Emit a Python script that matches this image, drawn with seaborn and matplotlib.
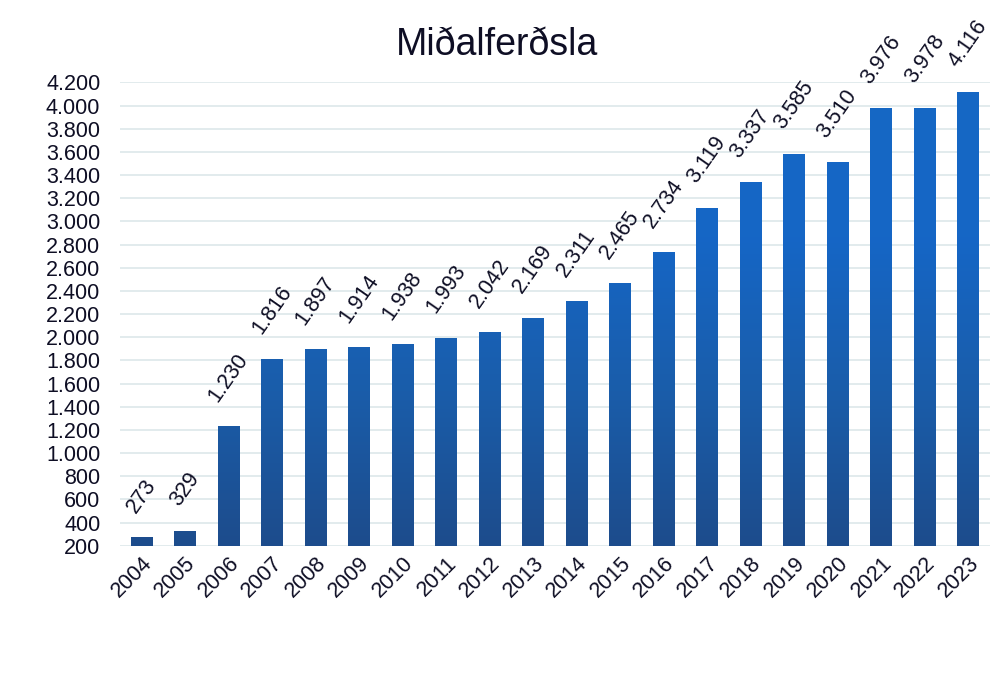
import numpy as np
import pandas as pd
import seaborn as sns
import matplotlib.pyplot as plt
from matplotlib.colors import LinearSegmentedColormap

years = ["2004", "2005", "2006", "2007", "2008", "2009", "2010", "2011", "2012", "2013",
         "2014", "2015", "2016", "2017", "2018", "2019", "2020", "2021", "2022", "2023"]
values = [273, 329, 1230, 1816, 1897, 1914, 1938, 1993, 2042, 2169,
          2311, 2465, 2734, 3119, 3337, 3585, 3510, 3976, 3978, 4116]
y_ticks = list(range(200, 4201, 200))
title = "Miðalferðsla"


def is_fmt(v):
    return f"{v:,}".replace(",", ".")


sns.set_style("white")
plt.rcParams["font.family"] = ["Liberation Sans", "DejaVu Sans"]
text_col = "#0e0e24"

df = pd.DataFrame({"year": years, "value": values})

fig = plt.figure(figsize=(10.06, 6.98), dpi=100)
ax = fig.add_axes([0.119, 0.218, 0.865, 0.664])

sns.barplot(data=df, x="year", y="value", width=0.5, color="#1a5fae", ax=ax, zorder=2)

ax.set_ylim(200, 4200)
ax.set_xlim(-0.5, len(years) - 0.5)
ax.set_yticks(y_ticks)
ax.set_yticklabels([is_fmt(t) for t in y_ticks], fontsize=15.5, color=text_col)
ax.tick_params(axis="y", length=0, pad=14)
ax.tick_params(axis="x", length=0, pad=5)
plt.setp(ax.get_xticklabels(), rotation=45, ha="right", rotation_mode="anchor",
         fontsize=15.5, color=text_col)
ax.set_xlabel("")
ax.set_ylabel("")
ax.grid(axis="y", color="#dde7ea", linewidth=1.2, zorder=0)
ax.set_axisbelow(True)
sns.despine(ax=ax, left=True, bottom=True)

# vertical gradient fill inside each bar
cmap = LinearSegmentedColormap.from_list("bl", ["#1d4c8c", "#1a5daa", "#1566c6", "#1668c4"])
grad = np.linspace(0, 1, 256).reshape(-1, 1)
for p in ax.patches:
    x0 = p.get_x()
    x1 = x0 + p.get_width()
    im = ax.imshow(grad, cmap=cmap, aspect="auto", origin="lower",
                   extent=(x0, x1, 200, 4200), zorder=3)
    im.set_clip_path(p)
    p.set_facecolor("none")
    p.set_edgecolor("none")

for i, v in enumerate(values):
    ax.annotate(is_fmt(v), (i, v), xytext=(0, 15), textcoords="offset points",
                ha="center", va="bottom", rotation=55, fontsize=15.5,
                color=text_col, annotation_clip=False)

ax.set_xlim(-0.5, len(years) - 0.5)
ax.set_ylim(200, 4200)
fig.text(0.494, 0.935, title, ha="center", va="center", fontsize=27, color=text_col)

fig.savefig("out.png", dpi=100)
